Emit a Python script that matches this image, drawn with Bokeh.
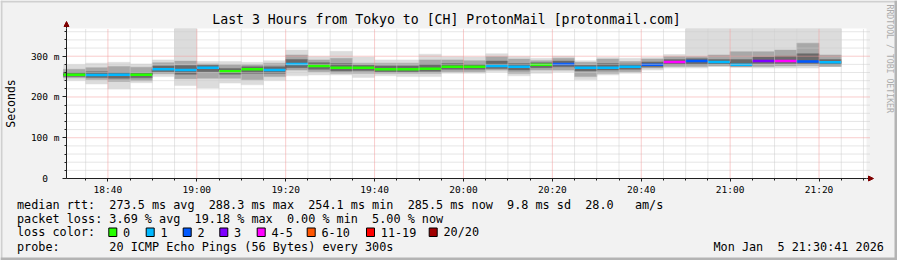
import math
from bokeh.plotting import figure
from bokeh.models import Range1d, FixedTicker
from bokeh.core.properties import value
from bokeh.embed import file_html
from bokeh.resources import INLINE

# ---------------- data (5-minute steps, values in ms) ----------------
bin_start = ["18:30", "18:35", "18:40", "18:45", "18:50", "18:55",
             "19:00", "19:05", "19:10", "19:15", "19:20", "19:25",
             "19:30", "19:35", "19:40", "19:45", "19:50", "19:55",
             "20:00", "20:05", "20:10", "20:15", "20:20", "20:25",
             "20:30", "20:35", "20:40", "20:45", "20:50", "20:55",
             "21:00", "21:05", "21:10", "21:15", "21:20"]
median = [254.5, 254.1, 254.3, 254.8, 268, 266, 271.5, 263, 268, 266,
          281, 276, 271.5, 271.5, 268, 268, 269, 274, 274, 276,
          274, 279, 281, 271.5, 271.5, 274, 279, 286, 288, 286,
          279, 288, 288, 287, 285.5]
loss = [0, 1, 1, 0, 1, 1, 1, 0, 0, 1, 1, 0, 0, 0, 0, 0, 0, 0, 0, 1,
        1, 0, 2, 1, 1, 1, 2, 4, 2, 1, 1, 3, 4, 2, 1]
ping_min = [241, 232, 220, 235, 250, 228, 222, 234, 230, 241, 252, 254, 254, 248,
            252, 250, 250, 258, 258, 262, 252, 258, 262, 242, 254, 258, 266, 271,
            271, 275, 272, 271, 271, 271, 275]
ping_max = [279, 283, 285, 281, 291, 375, 287, 287, 285, 289, 315, 299, 312, 298,
            291, 291, 305, 299, 298, 306, 299, 295, 300, 289, 297, 295, 297, 304,
            375, 375, 375, 375, 375, 375, 375]
ping_q_lo = [247, 243, 238, 240, 257, 245, 246, 246, 242, 250, 266, 262, 258, 258,
             258, 258, 258, 262, 262, 266, 258, 266, 266, 250, 258, 262, 271, 275,
             275, 276, 275, 275, 276, 277, 275]
ping_q_hi = [268, 272, 275, 273, 284, 288, 281, 279, 279, 283, 303, 291, 295, 283,
             283, 283, 291, 291, 289, 299, 293, 289, 295, 285, 293, 287, 293, 299,
             299, 303, 311, 311, 315, 332, 303]
core_lo = [250, 248, 246, 247, 262, 256, 262, 256, 258, 258, 272, 268, 264, 265,
           262, 262, 263, 268, 268, 270, 266, 272, 274, 264, 266, 268, 274, 280,
           280, 281, 276, 282, 282, 282, 280]
core_hi = [260, 262, 260, 259, 276, 277, 278, 270, 274, 274, 292, 284, 282, 278,
           276, 276, 280, 282, 280, 288, 282, 284, 288, 278, 282, 281, 286, 292,
           294, 292, 292, 298, 300, 306, 292]

loss_labels = ["0", "1", "2", "3", "4-5", "6-10", "11-19", "20/20"]
loss_colors = ["#26ff00", "#00b8ff", "#0059ff", "#7e00ff", "#ff00ff", "#ff5500", "#ff0000", "#a10000"]

y_ticks = [0, 100, 200, 300]
y_tick_labels = ["0  ", "100 m", "200 m", "300 m"]
x_tick_labels = ["18:40", "19:00", "19:20", "19:40", "20:00", "20:20", "20:40", "21:00", "21:20"]

title = "Last 3 Hours from Tokyo to [CH] ProtonMail [protonmail.com]"
stats_rtt = "median rtt:  273.5 ms avg  288.3 ms max  254.1 ms min  285.5 ms now  9.8 ms sd  28.0   am/s"
stats_loss = "packet loss: 3.69 % avg  19.18 % max  0.00 % min  5.00 % now"
probe_line = "probe:       20 ICMP Echo Pings (56 Bytes) every 300s"
stamp = "Mon Jan  5 21:30:41 2026"

# ---------------- derived ----------------
NB = "\u00a0"

def keep_spaces(s):
    return s.replace(" ", NB)

def to_min(s):
    h, m = s.split(":")
    return int(h) * 60 + int(m)

x_left = [to_min(s) for s in bin_start]
x_right = [v + 5 for v in x_left]

def loss_color(n):
    if n <= 3: return loss_colors[n]
    if n <= 5: return loss_colors[4]
    if n <= 10: return loss_colors[5]
    if n <= 19: return loss_colors[6]
    return loss_colors[7]

med_colors = [loss_color(n) for n in loss]

# chart window: 3 hours ending 21:30:41, y from 0 to 368 ms
X0 = 18 * 60 + 30 + 41 / 60.0
X1 = X0 + 180
Y1 = 368.0
# pixel layout of the graph area inside the 897x260 canvas
FL, FR, FT, FB = 66, 866, 28, 178
W, H = 897, 260

def dx(px):
    return X0 + (px - FL) * (X1 - X0) / (FR - FL)

def dy(py):
    return (FB - py) * Y1 / (FB - FT)

major_x = [to_min(s) for s in x_tick_labels]
minor_x = [v for v in range(to_min("18:35"), to_min("21:35"), 5) if v not in major_x]
major_y = [100, 200, 300]
minor_y = [v for v in range(20, 368, 20) if v % 100 != 0]

p = figure(width=W, height=H, output_backend="svg", toolbar_location=None,
           x_range=Range1d(dx(0), dx(W)), y_range=Range1d(dy(H), dy(0)),
           min_border=0)
p.border_fill_color = "#f2f2f2"
p.background_fill_color = "#f2f2f2"
p.outline_line_color = None
p.xgrid.visible = False
p.ygrid.visible = False

MONO = "DejaVu Sans Mono"

# canvas frame (rrdtool 3D shade)
p.quad(left=[dx(0), dx(0), dx(0), dx(W - 3)], right=[dx(W), dx(2), dx(W), dx(W)],
       top=[dy(0), dy(0), dy(H - 3), dy(0)], bottom=[dy(2), dy(H), dy(H), dy(H)],
       fill_color=["#d0d0d0", "#d0d0d0", "#b4b4b4", "#b4b4b4"], line_color=None)

# white graph canvas
p.quad(left=[X0], right=[X1], bottom=[0], top=[Y1], fill_color="#ffffff", line_color=None)

# smoke
top_clip = [min(v, Y1) for v in ping_max]
p.quad(left=x_left, right=x_right, bottom=ping_min, top=top_clip,
       fill_color="#dcdcdc", line_color="#dcdcdc", line_width=0.5)
p.quad(left=x_left, right=x_right, bottom=ping_q_lo, top=ping_q_hi,
       fill_color="#a8a8a8", line_color="#a8a8a8", line_width=0.5)
p.quad(left=x_left, right=x_right, bottom=core_lo, top=core_hi,
       fill_color="#6a6a6a", line_color="#6a6a6a", line_width=0.5)
# median
p.step(x_left + [x_right[-1]], median + [median[-1]], mode="after",
       line_color="#202020", line_width=1)
p.segment(x0=x_left, y0=median, x1=x_right, y1=median,
          line_color=med_colors, line_width=2.5)

# grid on top of the data (rrdtool style), limited to the graph area
p.segment(x0=minor_x, y0=[0] * len(minor_x), x1=minor_x, y1=[Y1] * len(minor_x),
          line_color="#cccccc", line_dash="1 1", line_width=1)
p.segment(x0=[X0] * len(minor_y), y0=minor_y, x1=[dx(869)] * len(minor_y), y1=minor_y,
          line_color="#cccccc", line_dash="1 1", line_width=1)
p.segment(x0=major_x, y0=[0] * len(major_x), x1=major_x, y1=[Y1] * len(major_x),
          line_color="#f29a9a", line_dash="1 1", line_width=1)
p.segment(x0=[X0] * len(major_y), y0=major_y, x1=[dx(869)] * len(major_y), y1=major_y,
          line_color="#f29a9a", line_dash="1 1", line_width=1)

# axes placed at the graph's origin
xa = p.xaxis[0]
ya = p.yaxis[0]
xa.fixed_location = 0
xa.bounds = (X0, X1)
ya.fixed_location = X0
ya.bounds = (0, Y1)
xa.ticker = FixedTicker(ticks=major_x, minor_ticks=minor_x)
xa.major_label_overrides = {t: l for t, l in zip(major_x, x_tick_labels)}
ya.ticker = FixedTicker(ticks=y_ticks, minor_ticks=minor_y)
ya.major_label_overrides = {t: keep_spaces(l) for t, l in zip(y_ticks, y_tick_labels)}
for ax in (xa, ya):
    ax.axis_line_color = "#202020"
    ax.major_tick_line_color = "#202020"
    ax.minor_tick_line_color = "#202020"
    ax.major_tick_in = 0
    ax.minor_tick_in = 0
    ax.minor_tick_out = 2
    ax.major_label_text_font = MONO
    ax.major_label_text_font_size = "9.5px"
    ax.major_label_text_color = "#000000"
xa.major_tick_out = 3
xa.major_label_standoff = 2
ya.major_tick_out = 4
ya.major_label_standoff = 3

# axis extensions and arrows
p.segment(x0=[X0, X1], y0=[Y1, 0], x1=[X0, dx(869)], y1=[dy(23), 0],
          line_color="#202020", line_width=1)
p.patches(xs=[[dx(63.5), dx(68.5), dx(66)], [dx(868), dx(868), dx(873)]],
          ys=[[dy(26), dy(26), dy(21)], [dy(175.5), dy(180.5), dy(178)]],
          fill_color="#7f0000", line_color="#7f0000")

def add_text(px, py, texts, size, align="left", angle=0.0, color="#000000"):
    p.text(x=[dx(v) for v in px], y=[dy(v) for v in py],
           text=[keep_spaces(t) for t in texts],
           text_font=value(MONO), text_font_size=value(size), text_align=align,
           text_baseline="middle", angle=angle, text_color=color)

add_text([446], [19.3], [title], "13.2px", align="center")
add_text([10], [103], ["Seconds"], "11.5px", align="center", angle=math.pi / 2)
add_text([889.3], [4], ["RRDTOOL / TOBI OETIKER"], "8.2px", angle=-math.pi / 2, color="#ababab")
add_text([16.5, 16.5, 16.5, 16.5, 713], [204, 218.3, 231.7, 246, 246],
         [stats_rtt, stats_loss, "loss color:", probe_line, stamp], "11.8px")

box_x = [108.3, 145.7, 182.7, 219.3, 256.7, 306.7, 366, 428.7]
p.quad(left=[dx(b) for b in box_x], right=[dx(b + 8) for b in box_x],
       top=[dy(227.5)] * len(box_x), bottom=[dy(236)] * len(box_x),
       fill_color=loss_colors, line_color="#000000", line_width=1)
add_text([b + 14.3 for b in box_x], [231.7] * len(box_x), loss_labels, "11.8px")

open("out.html", "w").write(file_html(p, INLINE))
